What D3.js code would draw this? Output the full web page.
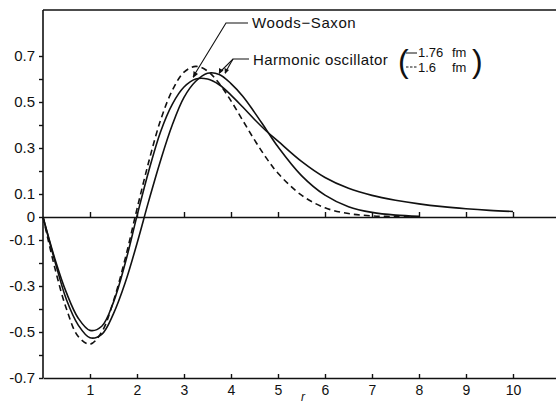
<!DOCTYPE html>
<html>
<head>
<meta charset="utf-8">
<script src="https://cdn.jsdelivr.net/npm/d3@7"></script>
<style>
  body { margin: 0; background: #fff; }
  text { font-family: 'Liberation Sans', Arial, sans-serif; fill: #111; }
</style>
</head>
<body>
<div id="viz"></div>
<script>
const width = 556;
const height = 404;
const margin = {top: 10, right: 0, bottom: 26, left: 43};

// radius (fm) samples
const rHO = [0, 0.25, 0.5, 0.75, 1, 1.25, 1.5, 1.75, 2, 2.25, 2.5, 2.75, 3, 3.25, 3.5, 3.75, 4, 4.25, 4.5, 4.75, 5, 5.5, 6, 6.5, 7, 7.5, 8];
const rWS = [0, 0.25, 0.5, 0.75, 1, 1.25, 1.5, 1.75, 2, 2.25, 2.5, 2.75, 3, 3.25, 3.5, 3.75, 4, 4.25, 4.5, 4.75, 5, 5.5, 6, 6.5, 7, 7.5, 8, 8.5, 9, 9.5, 10];

// Harmonic oscillator, b = 1.76 fm (solid)
const ho176 = [0, -0.19, -0.36, -0.47, -0.525, -0.51, -0.42, -0.285, -0.115, 0.07, 0.245, 0.40, 0.52, 0.59, 0.625, 0.62, 0.58, 0.525, 0.455, 0.38, 0.305, 0.18, 0.095, 0.045, 0.02, 0.008, 0.003];
// Harmonic oscillator, b = 1.6 fm (dashed)
const ho16 = [0, -0.22, -0.40, -0.52, -0.553, -0.50, -0.365, -0.18, 0.035, 0.24, 0.42, 0.55, 0.63, 0.655, 0.635, 0.58, 0.505, 0.42, 0.335, 0.257, 0.19, 0.095, 0.04, 0.015, 0.005, 0.002, 0.001];
// Woods-Saxon (solid, long tail)
const ws = [0, -0.18, -0.33, -0.44, -0.493, -0.475, -0.37, -0.20, 0.005, 0.20, 0.37, 0.49, 0.565, 0.60, 0.60, 0.575, 0.53, 0.478, 0.424, 0.374, 0.33, 0.242, 0.172, 0.125, 0.094, 0.073, 0.057, 0.045, 0.036, 0.029, 0.024];

const yTicks = [-0.7, -0.6, -0.5, -0.4, -0.3, -0.2, -0.1, 0, 0.1, 0.2, 0.3, 0.4, 0.5, 0.6, 0.7];
const yLabels = ['-0.7', '', '-0.5', '', '-0.3', '', '-0.1', '0', '0.1', '', '0.3', '', '0.5', '', '0.7'];
const xTicks = [1, 2, 3, 4, 5, 6, 7, 8, 9, 10];

const svg = d3.select('#viz')
  .append('svg')
  .attr('width', width)
  .attr('height', height)
  .attr('viewBox', [0, 0, width, height]);

const xScale = d3.scaleLinear()
  .domain([0, 513 / 47])
  .range([margin.left, width - margin.right]);

const yScale = d3.scaleLinear()
  .domain([-0.7, 0.9])
  .range([height - margin.bottom, margin.top]);

// frame: top line and left axis line
const frame = svg.append('g').attr('stroke', '#111').attr('stroke-width', 1.6);
frame.append('line')
  .attr('x1', xScale(0)).attr('x2', width)
  .attr('y1', yScale(0.9)).attr('y2', yScale(0.9));
frame.append('line')
  .attr('x1', xScale(0)).attr('x2', xScale(0))
  .attr('y1', yScale(0.9)).attr('y2', yScale(-0.7));

// left axis
const yAxis = svg.append('g')
  .attr('transform', `translate(${xScale(0)}, 0)`)
  .call(d3.axisLeft(yScale)
    .tickValues(yTicks)
    .tickSize(4)
    .tickPadding(4)
    .tickFormat((d, i) => yLabels[i]));
yAxis.select('.domain').remove();
yAxis.selectAll('line').attr('stroke', '#111').attr('stroke-width', 1.4);
yAxis.selectAll('text').attr('font-size', 15).attr('fill', '#111');

// bottom axis
const xAxis = svg.append('g')
  .attr('transform', `translate(0, ${yScale(-0.7)})`)
  .call(d3.axisBottom(xScale)
    .tickValues(xTicks)
    .tickSizeInner(-4)
    .tickSizeOuter(0)
    .tickPadding(7)
    .tickFormat(d3.format('d')));
xAxis.select('.domain').attr('stroke', '#111').attr('stroke-width', 1.6);
xAxis.selectAll('line').attr('stroke', '#111').attr('stroke-width', 1.4);
xAxis.selectAll('text').attr('font-size', 14).attr('fill', '#111');

// zero line with ticks
const zAxis = svg.append('g')
  .attr('transform', `translate(0, ${yScale(0)})`)
  .call(d3.axisBottom(xScale)
    .tickValues(xTicks)
    .tickSizeInner(-5)
    .tickSizeOuter(0)
    .tickFormat(''));
zAxis.select('.domain').attr('stroke', '#111').attr('stroke-width', 1.6);
zAxis.selectAll('line').attr('stroke', '#111').attr('stroke-width', 1.4);

svg.append('text')
  .attr('x', 303).attr('y', 401)
  .attr('font-size', 12)
  .attr('font-style', 'italic')
  .attr('text-anchor', 'middle')
  .text('r');

// curves
const makeLine = (rs) => d3.line()
  .x((d, i) => xScale(rs[i]))
  .y(d => yScale(d))
  .curve(d3.curveCatmullRom);

svg.append('path')
  .attr('d', makeLine(rWS)(ws))
  .attr('fill', 'none')
  .attr('stroke', '#111')
  .attr('stroke-width', 1.6);

svg.append('path')
  .attr('d', makeLine(rHO)(ho176))
  .attr('fill', 'none')
  .attr('stroke', '#111')
  .attr('stroke-width', 1.6);

svg.append('path')
  .attr('d', makeLine(rHO)(ho16))
  .attr('fill', 'none')
  .attr('stroke', '#111')
  .attr('stroke-width', 1.6)
  .attr('stroke-dasharray', '6,4');

// labels with leader lines
const lead = svg.append('g').attr('stroke', '#111').attr('stroke-width', 1.1).attr('fill', 'none');
lead.append('polyline').attr('points', '248,23 226,23 193,77');
lead.append('polyline').attr('points', '249,59 233,59 219,73');
lead.append('polyline').attr('points', '233,59 225,73');
const heads = svg.append('g').attr('fill', '#111');
heads.append('path').attr('d', 'M193,78 L193.5,71 L198,74 Z');
heads.append('path').attr('d', 'M219,74 L219,68 L223.5,70.5 Z');
heads.append('path').attr('d', 'M225,74 L224.5,68 L229,70 Z');

svg.append('text')
  .attr('x', 252).attr('y', 28)
  .attr('font-size', 15)
  .attr('letter-spacing', 0.6)
  .text('Woods\u2212Saxon');

svg.append('text')
  .attr('x', 253).attr('y', 65)
  .attr('font-size', 15)
  .attr('letter-spacing', 0.4)
  .text('Harmonic oscillator');

// key in parentheses
svg.append('text')
  .attr('x', 398).attr('y', 72)
  .attr('font-size', 32)
  .attr('font-weight', 300)
  .text('(');
svg.append('text')
  .attr('x', 472).attr('y', 72)
  .attr('font-size', 32)
  .attr('font-weight', 300)
  .text(')');

svg.append('line')
  .attr('x1', 406).attr('x2', 417)
  .attr('y1', 53).attr('y2', 53)
  .attr('stroke', '#111').attr('stroke-width', 1);
svg.append('line')
  .attr('x1', 406).attr('x2', 417)
  .attr('y1', 67).attr('y2', 67)
  .attr('stroke', '#111').attr('stroke-width', 1)
  .attr('stroke-dasharray', '2.5,1.5');

svg.append('text')
  .attr('x', 418).attr('y', 57)
  .attr('font-size', 13)
  .text('1.76');
svg.append('text')
  .attr('x', 452).attr('y', 57)
  .attr('font-size', 13)
  .text('fm');
svg.append('text')
  .attr('x', 418).attr('y', 72)
  .attr('font-size', 13)
  .text('1.6');
svg.append('text')
  .attr('x', 452).attr('y', 72)
  .attr('font-size', 13)
  .text('fm');
</script>
</body>
</html>
